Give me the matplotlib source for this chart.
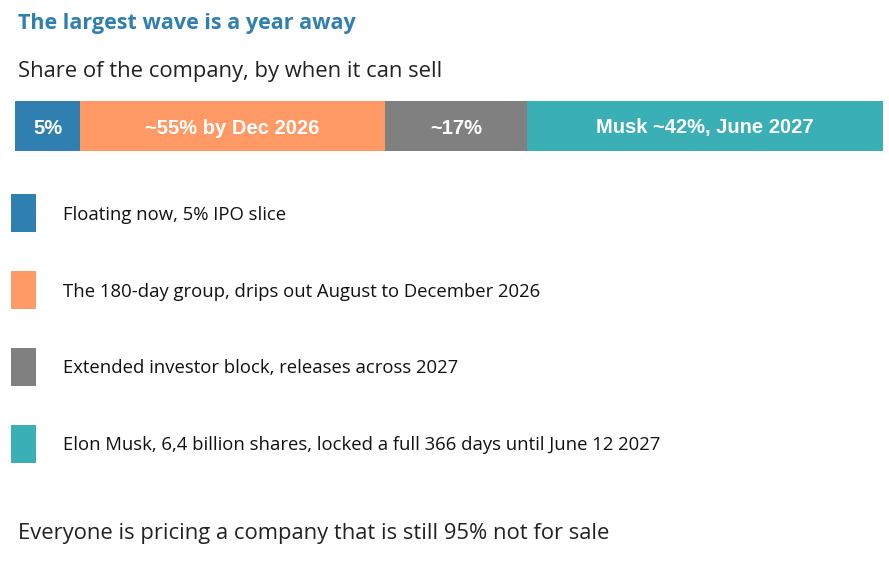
import matplotlib

matplotlib.use("Agg")
import matplotlib.pyplot as plt  # noqa: E402

# segment shares as drawn (bar widths), and their labels
shares = [7.5, 35.1, 16.4, 41.0]
bar_labels = ["5%", "~55% by Dec 2026", "~17%", "Musk ~42%, June 2027"]
colors = ["#2f7fb0", "#ff9966", "#808080", "#3ab0b6"]
legend_labels = [
    "Floating now, 5% IPO slice",
    "The 180-day group, drips out August to December 2026",
    "Extended investor block, releases across 2027",
    "Elon Musk, 6,4 billion shares, locked a full 366 days until June 12 2027",
]

W, H = 889, 563
fig = plt.figure(figsize=(W / 100, H / 100), dpi=100)
fig.patch.set_facecolor("white")

FONT = "Open Sans"
fig.text(18 / W, 1 - 23 / H, "The largest wave is a year away", color="#2f7fb0",
         fontsize=15.5, fontweight="bold", family=FONT, va="center")
fig.text(18 / W, 1 - 71 / H, "Share of the company, by when it can sell", color="#222222",
         fontsize=15.8, family=FONT, va="center")
fig.text(18 / W, 1 - 533 / H, "Everyone is pricing a company that is still 95% not for sale",
         color="#222222", fontsize=15.8, family=FONT, va="center")

# stacked bar
ax = fig.add_axes([15 / W, 1 - 151 / H, 868 / W, 50 / H])
left = 0
for val, lab, col in zip(shares, bar_labels, colors):
    ax.barh(0, val, left=left, height=1, color=col, edgecolor="none")
    ax.text(left + val / 2, -0.04, lab, ha="center", va="center", color="white",
            fontsize=14.5, fontweight="bold", family="Liberation Sans")
    left += val
ax.set_xlim(0, sum(shares))
ax.set_ylim(-0.5, 0.5)
ax.axis("off")

# legend rows
lax = fig.add_axes([11 / W, 1 - 463 / H, (W - 11) / W, 269 / H])
for i, (lab, col) in enumerate(zip(legend_labels, colors)):
    lax.barh(i, 25, left=0, height=0.5, color=col, edgecolor="none")
    lax.text(52, i + 0.02, lab, va="center", ha="left", fontsize=13.3, family=FONT, color="#111111")
lax.set_xlim(0, W - 11)
lax.set_ylim(3.25, -0.25)
lax.axis("off")

plt.savefig("out.png", dpi=100)
plt.close()
